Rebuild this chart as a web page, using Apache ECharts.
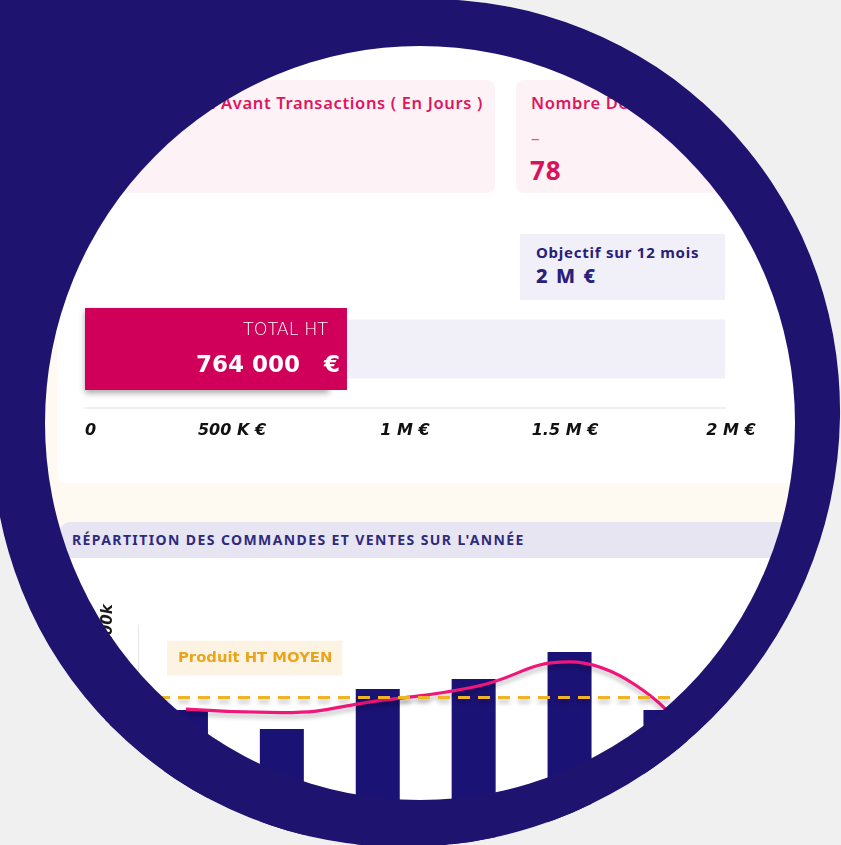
<!DOCTYPE html>
<html><head><meta charset="utf-8">
<script src="https://cdn.jsdelivr.net/npm/echarts@6/dist/echarts.min.js"></script>
<style>
html,body{margin:0;padding:0;background:#f0f0f0;}
#stage{position:relative;width:841px;height:845px;overflow:hidden;background:#fffaf1;font-family:"Noto Sans",sans-serif;}
.abs{position:absolute;white-space:nowrap;}
#frame{position:absolute;left:0;top:0;width:841px;height:845px;z-index:50;pointer-events:none;}
</style></head><body>
<div id="stage">
  <div class="abs" style="left:57px;top:-40px;width:900px;height:523px;background:#fff;border-radius:10px;"></div>
  <div class="abs" style="left:30px;top:80px;width:465px;height:113px;background:#fdf2f6;border-radius:8px;"></div>
  <div class="abs" id="t1" style="right:358px;top:91px;font-size:16.5px;letter-spacing:0.65px;line-height:24px;font-weight:600;color:#e3135f;"></div>
  <div class="abs" style="left:516px;top:80px;width:330px;height:113px;background:#fdf2f6;border-radius:8px;"></div>
  <div class="abs" id="t2" style="left:531px;top:91px;font-size:16.5px;letter-spacing:0.65px;line-height:24px;font-weight:600;color:#e3135f;"></div>
  <div class="abs" style="left:531px;top:127px;font-size:17px;line-height:22px;font-weight:400;color:#e8548a;">–</div>
  <div class="abs" id="t3" style="left:530px;top:153px;font-size:26px;letter-spacing:1px;line-height:34px;font-weight:700;color:#d6135b;"></div>
  <div class="abs" style="left:520px;top:234px;width:205px;height:66px;background:#f1f0f8;"></div>
  <div class="abs" id="t4" style="left:536px;top:241px;font-size:15px;letter-spacing:0.75px;line-height:22px;font-weight:700;color:#28207a;"></div>
  <div class="abs" id="t5" style="left:536px;top:263px;font-size:20px;letter-spacing:1.6px;line-height:26px;font-weight:800;color:#28207a;"></div>
  <div class="abs" id="gauge" style="left:0;top:290px;width:841px;height:170px;"></div>
  <div class="abs" style="left:60px;top:522px;width:900px;height:36px;background:#e7e5f1;border-radius:10px 10px 0 0;"></div>
  <div class="abs" id="t6" style="left:72px;top:522px;font-size:14px;letter-spacing:1.4px;line-height:36px;font-weight:700;color:#2f2a7c;"></div>
  <div class="abs" style="left:60px;top:558px;width:900px;height:400px;background:#fff;"></div>
  <div class="abs" id="monthly" style="left:0;top:558px;width:841px;height:287px;"></div>
  <svg id="frame" viewBox="0 0 841 845" xmlns="http://www.w3.org/2000/svg">
    <defs>
      <mask id="outside" maskUnits="userSpaceOnUse" x="0" y="0" width="841" height="845">
        <rect x="0" y="0" width="841" height="845" fill="white"/>
        <ellipse id="oe1" fill="black"/>
        <rect id="oc1" fill="black"/>
      </mask>
      <mask id="ring" maskUnits="userSpaceOnUse" x="0" y="0" width="841" height="845">
        <rect x="0" y="0" width="841" height="845" fill="white"/>
        <ellipse id="ie" fill="black"/>
      </mask>
    </defs>
    <rect x="0" y="0" width="841" height="845" fill="#f0f0f0" mask="url(#outside)"/>
    <g fill="#1e1470" mask="url(#ring)">
      <ellipse id="oe2"/>
      <rect id="oc2"/>
    </g>
  </svg>
</div>
<script>
// ---- texts ----
const cardTitles = ['Délai Moyen Avant Transactions ( En Jours )', 'Nombre De Transactions'];
const transactionsCount = '78';
const objectifLabel = 'Objectif sur 12 mois';
const objectifText = '2 M €';
const sectionTitle = "RÉPARTITION DES COMMANDES ET VENTES SUR L'ANNÉE";

// ---- gauge (total HT vs objectif) ----
const gaugeTickValues = [0, 500000, 1000000, 1500000, 2000000];
const gaugeTickLabels = ['0', '500 K €', '1 M €', '1.5 M €', '2 M €'];
const totalHT = [764000];
const objectifValue = [2000000];
const totalLabel = 'TOTAL HT';
const totalText = '764 000   €';

// ---- monthly chart (k€) ----
const months = ['Janv.', 'Févr.', 'Mars', 'Avr.', 'Mai', 'Juin'];
const ventes = [61.4, 52.7, 70.9, 75.5, 87.7, 61.4];
const commandes = [61.8, 60.2, 65.5, 71.8, 83.2, 61.8];
const averageLabel = 'Produit HT MOYEN';

document.getElementById('t1').textContent = cardTitles[0];
document.getElementById('t2').textContent = cardTitles[1];
document.getElementById('t3').textContent = transactionsCount;
document.getElementById('t4').textContent = objectifLabel;
document.getElementById('t5').textContent = objectifText;
document.getElementById('t6').textContent = sectionTitle;

const DV = 'DejaVu Sans';
const labelStyleKey = ['n', 'l', 'n', 'n', 'r'];
const g = echarts.init(document.getElementById('gauge'));
g.setOption({
  animation: false,
  grid: {left: 85, right: 116, top: 0, bottom: 52, containLabel: false, outerBoundsMode: 'none'},
  xAxis: {
    type: 'value', min: 0, max: 2000000, interval: 500000,
    axisLine: {show: true, lineStyle: {color: '#ececec', width: 1.5}},
    axisTick: {show: false}, splitLine: {show: false},
    axisLabel: {
      margin: 15, fontStyle: 'italic', fontWeight: 700, fontSize: 16, color: '#111',
      fontFamily: DV, alignMinLabel: 'left',
      formatter: (v) => {
        const k = gaugeTickValues.indexOf(v);
        return '{' + labelStyleKey[k] + '|' + gaugeTickLabels[k] + '}';
      },
      rich: {
        n: {},
        l: {padding: [0, 26, 0, 0]},
        r: {padding: [0, 0, 0, 12]}
      }
    }
  },
  yAxis: [
    {type: 'category', data: ['total'], show: false},
    {type: 'category', data: ['objectif'], show: false}
  ],
  series: [
    {type: 'bar', yAxisIndex: 1, data: objectifValue, barWidth: 59, silent: true, z: 1,
     itemStyle: {color: '#f1f0f8'}},
    {type: 'bar', yAxisIndex: 0, data: totalHT, barWidth: 82, z: 2,
     itemStyle: {color: '#d0005a', shadowColor: 'rgba(0,0,0,0.35)', shadowBlur: 6, shadowOffsetY: 3},
     label: {
       show: true, position: 'insideRight', distance: 0, offset: [17.5, 0],
       backgroundColor: '#d0005a', padding: [9, 7, 0, 10], align: 'right',
       formatter: '{a|' + totalLabel + '}\n{b|' + totalText + '}',
       rich: {
         a: {fontSize: 17.5, fontWeight: 200, color: '#fff', lineHeight: 26, padding: [0, 12, 0, 0], fontFamily: DV, align: 'right'},
         b: {fontSize: 23, fontWeight: 700, color: '#fff', lineHeight: 47, fontFamily: DV, align: 'right'}
       }
     }}
  ]
});

const m = echarts.init(document.getElementById('monthly'));
m.setOption({
  animation: false,
  grid: {left: 138, top: 67, width: 575.4, height: 220, containLabel: false, outerBoundsMode: 'none'},
  xAxis: {type: 'category', data: months, axisLine: {show: false}, axisTick: {show: false},
          axisLabel: {show: true, color: '#333'}},
  yAxis: {
    type: 'value', min: 0, max: 100, interval: 20,
    axisLine: {show: true, lineStyle: {color: '#e6e6e6', width: 1}},
    axisTick: {show: false}, splitLine: {show: false},
    axisLabel: {rotate: 90, margin: 22, formatter: '{value}k', fontStyle: 'italic', fontWeight: 700,
                fontSize: 15, color: '#1a1a1a', fontFamily: DV}
  },
  series: [
    {type: 'bar', name: 'Ventes', data: ventes, barWidth: 44, itemStyle: {color: '#1b1275'}},
    {type: 'line', name: 'Commandes', data: commandes, smooth: true, symbol: 'none',
     lineStyle: {color: '#f0167a', width: 3.2, shadowColor: 'rgba(0,0,0,0.25)', shadowBlur: 4, shadowOffsetY: 4},
     markLine: {
       silent: true, symbol: ['none', 'none'],
       data: [{type: 'average', name: averageLabel}],
       lineStyle: {color: '#f0b323', width: 3, type: [12, 8], shadowColor: 'rgba(0,0,0,0.25)', shadowBlur: 4, shadowOffsetY: 4},
       label: {position: 'insideStartTop', formatter: averageLabel, backgroundColor: '#fdf3e2',
               color: '#eaa51c', fontWeight: 700, fontSize: 14.8, fontFamily: DV, lineHeight: 17,
               padding: [9, 10, 9, 11], distance: [29, 21]}
     }}
  ]
});

// ---- decorative frame ----
const outer = {cx: 416, cy: 423, rx: 430, ry: 418, rot: -45, cornerW: 428, cornerH: 423};
const inner = {cx: 420, cy: 423, rx: 375, ry: 377};
['oe1', 'oe2'].forEach(id => {
  const e = document.getElementById(id);
  e.setAttribute('cx', outer.cx); e.setAttribute('cy', outer.cy);
  e.setAttribute('rx', outer.rx); e.setAttribute('ry', outer.ry);
  e.setAttribute('transform', 'rotate(' + outer.rot + ' ' + outer.cx + ' ' + outer.cy + ')');
});
['oc1', 'oc2'].forEach(id => {
  const r = document.getElementById(id);
  r.setAttribute('x', 0); r.setAttribute('y', 0);
  r.setAttribute('width', outer.cornerW); r.setAttribute('height', outer.cornerH);
});
const ie = document.getElementById('ie');
ie.setAttribute('cx', inner.cx); ie.setAttribute('cy', inner.cy);
ie.setAttribute('rx', inner.rx); ie.setAttribute('ry', inner.ry);
</script>
</body></html>
